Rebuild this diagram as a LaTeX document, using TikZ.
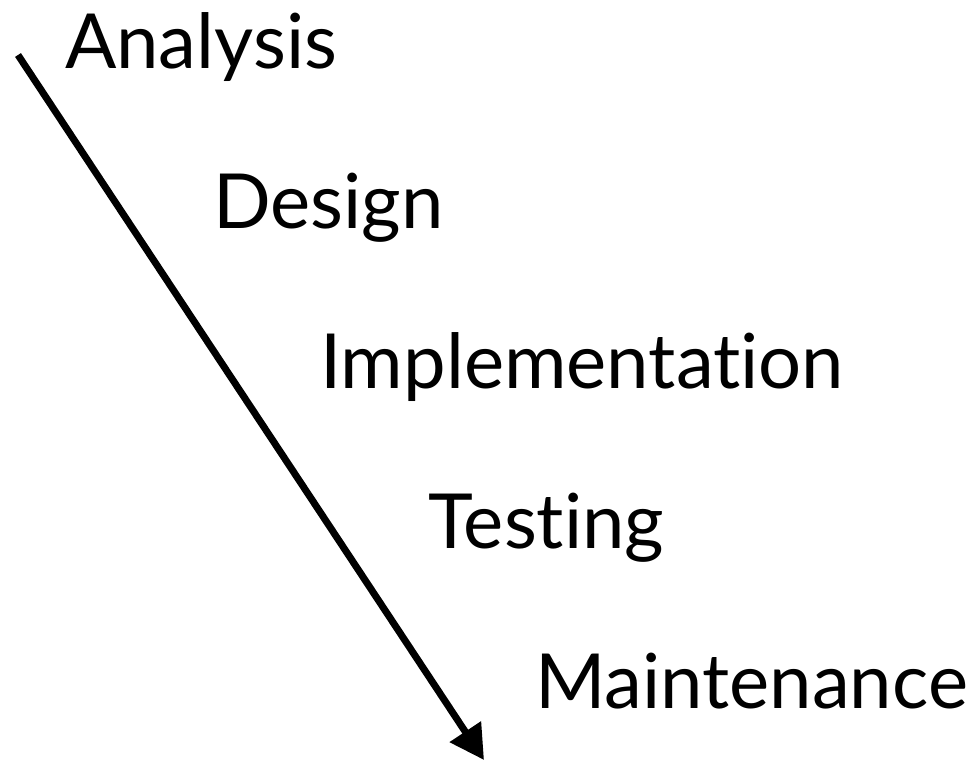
\documentclass[tikz,border=0pt]{standalone}
\usepackage{fontspec}
\setmainfont[Ligatures=NoCommon]{Lato}
\usetikzlibrary{arrows.meta}
\begin{document}
\begin{tikzpicture}[x=1pt,y=-1pt,
  phase/.style={anchor=base west,inner sep=0pt,font=\fontsize{76}{82}\selectfont},
  flow/.style={line width=7pt,-{Triangle[length=34pt,width=36pt]}}]
  \useasboundingbox (0,0) rectangle (974,761);
  \node[phase] (analysis) at (65,68) {Analysis};
  \node[phase] (design) at (213,228) {Design};
  \node[phase] (impl) at (320,388) {Implementation};
  \node[phase] (testing) at (428,548) {Testing};
  \node[phase] (maint) at (535,708) {Maintenance};
  \coordinate (start) at (18,55);
  \coordinate (finish) at (484,760);
  \draw[flow] (start) -- (finish);
\end{tikzpicture}
\end{document}
